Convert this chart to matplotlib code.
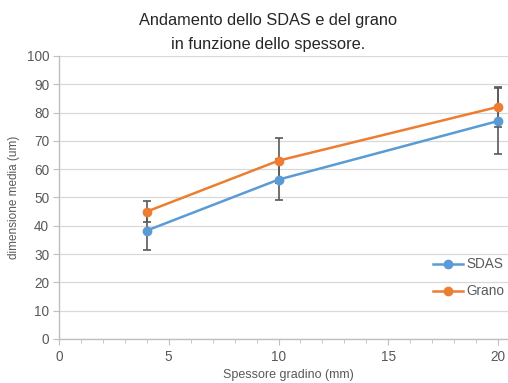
import matplotlib
matplotlib.use("Agg")
import matplotlib.pyplot as plt
from matplotlib.ticker import MultipleLocator

x = [4, 10, 20]
sdas = [38.3, 56.3, 77.0]
sdas_err = [6.8, 7.3, 11.5]
grano = [45.0, 63.0, 82.0]
grano_err = [3.8, 8.0, 7.0]

plt.rcParams['font.family'] = ['Liberation Sans', 'DejaVu Sans']

fig = plt.figure(figsize=(5.08, 3.83), dpi=100)
ax = fig.add_axes([0.116, 0.115, 0.884, 0.739])

blue = '#5B9BD5'
orange = '#ED7D31'
grey = '#595959'

ax.errorbar(x, sdas, yerr=sdas_err, color=blue, marker='o', ms=6, lw=1.8,
            ecolor=grey, elinewidth=1.2, capsize=3, capthick=1.2, label='SDAS', zorder=3)
ax.errorbar(x, grano, yerr=grano_err, color=orange, marker='o', ms=6, lw=1.8,
            ecolor=grey, elinewidth=1.2, capsize=3, capthick=1.2, label='Grano', zorder=3)

ax.set_xlim(0, 20.45)
ax.set_ylim(0, 100)
ax.xaxis.set_major_locator(MultipleLocator(5))
ax.xaxis.set_minor_locator(MultipleLocator(1))
ax.yaxis.set_major_locator(MultipleLocator(10))
ax.grid(axis='y', color='#d9d9d9', lw=0.9, zorder=0)
for s in ['top', 'right']:
    ax.spines[s].set_visible(False)
for s in ['left', 'bottom']:
    ax.spines[s].set_color('#bfbfbf')
    ax.spines[s].set_linewidth(1.0)
ax.tick_params(axis='both', which='both', colors='#bfbfbf', labelcolor=grey, labelsize=9.8, direction='out')
ax.tick_params(axis='x', which='major', length=4, pad=4)
ax.tick_params(axis='x', which='minor', length=3)
ax.tick_params(axis='y', which='major', length=4, pad=3)

ax.set_ylabel('dimensione media (um)', fontsize=8.5, color=grey, labelpad=5)
fig.text(0.567, 0.02, 'Spessore gradino (mm)', ha='center', va='center', fontsize=9, color=grey)
fig.text(0.528, 0.946, 'Andamento dello SDAS e del grano', ha='center', va='center', fontsize=11.8, color='#262626')
fig.text(0.528, 0.884, 'in funzione dello spessore.', ha='center', va='center', fontsize=11.8, color='#262626')

h, l = ax.get_legend_handles_labels()
h = [hh[0] for hh in h]
leg = ax.legend(h, l, loc='lower right', bbox_to_anchor=(1.02, 0.1), frameon=False, fontsize=9.8,
                labelcolor=grey, handlelength=2.2, labelspacing=0.95, handletextpad=0.3)

fig.savefig('out.png', dpi=100)
